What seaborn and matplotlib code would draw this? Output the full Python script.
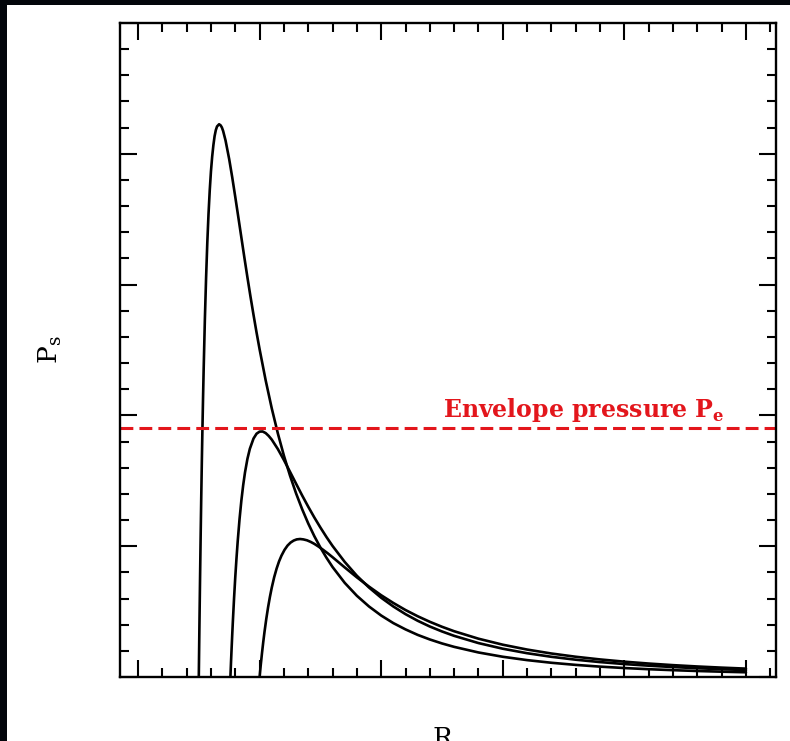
import matplotlib.pyplot as plt
import pandas as pd
import seaborn as sns
from matplotlib.patches import Rectangle
from matplotlib.ticker import MultipleLocator

# Surface pressure vs radius, three curves (x axis runs 0..5, y axis 0..5)
r_curve1 = [0.50, 0.505, 0.51, 0.515, 0.52, 0.525, 0.53, 0.535, 0.54, 0.55, 0.56, 0.57, 0.58, 0.59, 0.60,
            0.61, 0.62, 0.63, 0.64, 0.65, 0.667, 0.68, 0.69, 0.70, 0.72, 0.75, 0.775, 0.80, 0.825, 0.85,
            0.875, 0.90, 0.925, 0.95, 0.975, 1.00, 1.05, 1.10, 1.15, 1.20, 1.25, 1.30, 1.35, 1.40, 1.45,
            1.50, 1.55, 1.60, 1.70, 1.80, 1.90, 2.00, 2.10, 2.20, 2.30, 2.40, 2.50, 2.60, 2.80, 3.00,
            3.20, 3.40, 3.60, 3.80, 4.00, 4.20, 4.40, 4.60, 4.80, 5.00]
p_curve1 = [0.0, 0.380, 0.731, 1.062, 1.365, 1.645, 1.901, 2.135, 2.350, 2.735, 3.052, 3.321, 3.541, 3.720, 3.866,
            3.978, 4.066, 4.135, 4.181, 4.209, 4.226, 4.217, 4.201, 4.175, 4.102, 3.959, 3.820, 3.670, 3.516, 3.361,
            3.206, 3.055, 2.909, 2.769, 2.634, 2.506, 2.268, 2.054, 1.863, 1.692, 1.540, 1.404, 1.283, 1.174, 1.077,
            0.990, 0.912, 0.841, 0.720, 0.621, 0.539, 0.470, 0.412, 0.364, 0.322, 0.287, 0.2566, 0.2304, 0.1876, 0.1547,
            0.1291, 0.1088, 0.0925, 0.0793, 0.0685, 0.0596, 0.0522, 0.0459, 0.0406, 0.0361]

r_curve2 = [0.76, 0.765, 0.77, 0.775, 0.78, 0.79, 0.80, 0.81, 0.82, 0.835, 0.85, 0.865, 0.88, 0.90, 0.92,
            0.95, 0.975, 1.00, 1.025, 1.05, 1.075, 1.10, 1.15, 1.20, 1.25, 1.30, 1.35, 1.40, 1.45, 1.50,
            1.55, 1.60, 1.70, 1.80, 1.90, 2.00, 2.10, 2.20, 2.30, 2.40, 2.50, 2.60, 2.80, 3.00, 3.20,
            3.40, 3.60, 3.80, 4.00, 4.20, 4.40, 4.60, 4.80, 5.00]
p_curve2 = [0.0, 0.114, 0.221, 0.324, 0.421, 0.602, 0.764, 0.907, 1.037, 1.206, 1.348, 1.466, 1.564, 1.668, 1.745,
            1.823, 1.860, 1.876, 1.877, 1.865, 1.843, 1.815, 1.743, 1.659, 1.569, 1.478, 1.388, 1.302, 1.220, 1.143,
            1.070, 1.002, 0.880, 0.774, 0.684, 0.606, 0.539, 0.4805, 0.430, 0.386, 0.3482, 0.3147, 0.2594, 0.2162, 0.1819,
            0.1544, 0.1322, 0.1140, 0.0989, 0.0864, 0.0759, 0.0670, 0.0595, 0.0530]

r_curve3 = [1.00, 1.005, 1.01, 1.02, 1.03, 1.04, 1.055, 1.07, 1.085, 1.10, 1.12, 1.14, 1.16, 1.18, 1.205,
            1.23, 1.255, 1.28, 1.305, 1.333, 1.36, 1.39, 1.42, 1.45, 1.485, 1.52, 1.56, 1.60, 1.65, 1.70,
            1.80, 1.90, 2.00, 2.10, 2.20, 2.30, 2.40, 2.50, 2.60, 2.80, 3.00, 3.20, 3.40, 3.60, 3.80,
            4.00, 4.20, 4.40, 4.60, 4.80, 5.00]
p_curve3 = [0.0, 0.0490, 0.0961, 0.1848, 0.2665, 0.3419, 0.444, 0.534, 0.613, 0.683, 0.763, 0.829, 0.884, 0.928, 0.972,
            1.005, 1.028, 1.043, 1.052, 1.055, 1.052, 1.045, 1.033, 1.018, 0.997, 0.974, 0.946, 0.916, 0.877, 0.838,
            0.762, 0.691, 0.625, 0.566, 0.512, 0.4645, 0.422, 0.384, 0.350, 0.2928, 0.2469, 0.2098, 0.1796, 0.1548, 0.1343,
            0.1172, 0.1028, 0.0907, 0.0804, 0.0716, 0.064]

envelope_p = 1.9
envelope_label = "Envelope pressure P$_{\\mathregular{e}}$"
envelope_label_pos = (2.51, 1.99)

# Style
sns.set_style("ticks")
plt.rcParams["font.family"] = ["DejaVu Serif", "DejaVu Sans"]
red = "#e3161c"

fig = plt.figure(figsize=(7.9, 7.41), dpi=100)
fig.patch.set_facecolor("#03060b")
# white slide area (screenshot leaves a dark strip at left and top)
fig.patches.append(Rectangle((7 / 790, 0), 1 - 7 / 790, 736 / 741, transform=fig.transFigure,
                             facecolor="white", edgecolor="none", zorder=-10))

ax = fig.add_axes([120 / 790, 64 / 741, 656 / 790, 654 / 741])
ax.set_facecolor("white")

# Plot the three curves
for r, p in [(r_curve1, p_curve1), (r_curve2, p_curve2), (r_curve3, p_curve3)]:
    df = pd.DataFrame({"R": r, "P": p})
    sns.lineplot(data=df, x="R", y="P", color="black", linewidth=1.9, estimator=None, sort=False, ax=ax)

# Envelope pressure line and label
ax.axhline(envelope_p, color=red, linewidth=2.2, linestyle=(0, (4.2, 2.0)))
ax.text(envelope_label_pos[0], envelope_label_pos[1], envelope_label, color=red, fontsize=17,
        fontweight="bold", ha="left", va="baseline")

# Axes limits and ticks
ax.set_xlim(-0.148, 5.247)
ax.set_ylim(0, 5)
ax.xaxis.set_major_locator(MultipleLocator(1))
ax.xaxis.set_minor_locator(MultipleLocator(0.2))
ax.yaxis.set_major_locator(MultipleLocator(1))
ax.yaxis.set_minor_locator(MultipleLocator(0.2))
ax.tick_params(which="both", direction="in", top=True, right=True, labelbottom=False, labelleft=False,
               color="black")
ax.tick_params(which="major", length=12, width=1.5)
ax.tick_params(which="minor", length=6.5, width=1.5)
for spine in ax.spines.values():
    spine.set_linewidth(1.7)
    spine.set_color("black")

ax.set_xlabel("R", fontsize=19, color="black")
ax.set_ylabel("P$_{\\mathregular{s}}$", fontsize=19, color="black")
ax.xaxis.set_label_coords(0.492, -0.075)
ax.yaxis.set_label_coords(-0.085, 0.5)

plt.savefig("out.png", dpi=100, facecolor=fig.get_facecolor())
